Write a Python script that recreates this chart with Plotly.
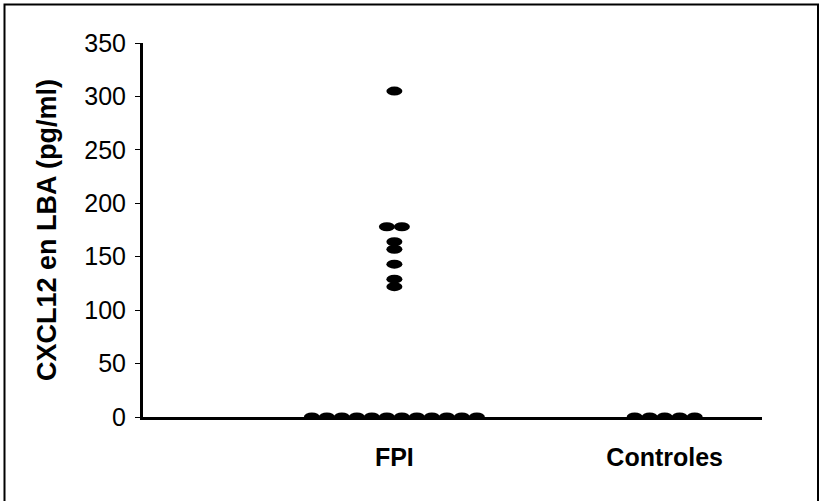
import plotly.graph_objects as go

# CXCL12 concentrations in BAL fluid (pg/ml) per group
groups = ["FPI", "Controles"]
group_pos = [1, 2]
fpi_values = [305, 178, 178, 164, 157, 143, 129, 122,
              0, 0, 0, 0, 0, 0, 0, 0, 0, 0, 0, 0]
control_values = [0, 0, 0, 0, 0]
y_ticks = [0, 50, 100, 150, 200, 250, 300, 350]

W, H = 822, 501
ML, MR, MT, MB = 143, 60, 43, 84
DOT_W, DOT_H, DOT_STEP = 16, 9, 15
FONT = "Liberation Sans, Arial, sans-serif"

fig = go.Figure()
shapes = []

for pos, values in zip(group_pos, [fpi_values, control_values]):
    # equal values are spread sideways so every dot stays visible
    counts = {v: values.count(v) for v in values}
    seen = {}
    xs, ys = [], []
    for v in values:
        i = seen.get(v, 0)
        seen[v] = i + 1
        off = (i - (counts[v] - 1) / 2) * DOT_STEP
        shapes.append(dict(
            type="circle", xref="x", yref="y",
            xsizemode="pixel", ysizemode="pixel",
            xanchor=pos, yanchor=v,
            x0=off - DOT_W / 2, x1=off + DOT_W / 2,
            y0=-DOT_H / 2, y1=DOT_H / 2,
            fillcolor="black", line=dict(width=0), layer="above",
        ))
        xs.append(pos)
        ys.append(v)
    fig.add_trace(go.Scatter(x=xs, y=ys, mode="markers",
                             marker=dict(size=10, opacity=0),
                             showlegend=False, hoverinfo="y"))

# outer frame around the whole figure
pw, ph = W - ML - MR, H - MT - MB
def px_x(p):
    return (p - ML) / pw
def px_y(p):
    return (H - MB - p) / ph

shapes.append(dict(type="rect", xref="paper", yref="paper",
                   x0=px_x(4.5), x1=px_x(818), y0=px_y(505), y1=px_y(4.5),
                   line=dict(color="black", width=2), layer="above"))

fig.update_layout(
    width=W, height=H,
    margin=dict(l=ML, r=MR, t=MT, b=MB),
    paper_bgcolor="white", plot_bgcolor="white",
    shapes=shapes,
    font=dict(family=FONT, color="black"),
    xaxis=dict(
        range=[0.07, 2.36], tickvals=group_pos, ticktext=groups,
        showgrid=False, zeroline=False, showline=True,
        linecolor="black", linewidth=3, ticks="",
        tickfont=dict(size=25, weight="bold"),
        ticklabelstandoff=16,
    ),
    yaxis=dict(
        range=[0, 350], tickvals=y_ticks,
        showgrid=False, zeroline=False, showline=True,
        linecolor="black", linewidth=3,
        ticks="outside", ticklen=5, tickwidth=1, tickcolor="black",
        tickfont=dict(size=25),
        ticklabelstandoff=4,
        title=dict(text="CXCL12 en LBA (pg/ml)",
                   font=dict(size=27, weight="bold"), standoff=20),
    ),
)

fig.write_html("out.html")
